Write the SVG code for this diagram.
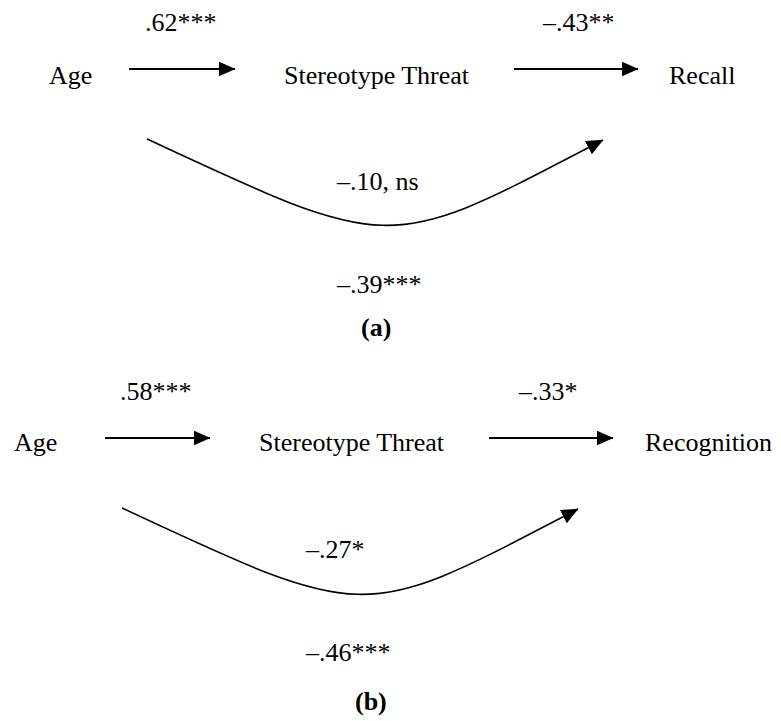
<svg xmlns="http://www.w3.org/2000/svg" width="781" height="721" viewBox="0 0 781 721">
<defs>
<style>
text{font-family:"Liberation Serif","Times New Roman",serif;font-size:26px;fill:#000}
.b{font-weight:bold}
.ln{fill:none;stroke:#000;marker-end:url(#ah)}
.st{stroke-width:2.2}
.cv{stroke-width:1.6}
</style>
<marker id="ah" markerUnits="userSpaceOnUse" markerWidth="17" markerHeight="15" viewBox="0 0 17 15" refX="16.5" refY="7.5" orient="auto">
<path d="M0,0 L17,7.5 L0,15 Z" fill="#000"/>
</marker>
</defs>
<rect width="781" height="721" fill="#fff"/>
<g id="panel-a">
<g id="a-age"><text x="49" y="84">Age</text></g>
<g id="a-threat"><text x="284" y="84">Stereotype Threat</text></g>
<g id="a-recall"><text x="669" y="84">Recall</text></g>
<g id="a-labels">
<text x="145" y="31">.62***</text>
<text x="543" y="31">–.43**</text>
<text x="337" y="190">–.10, ns</text>
<text x="337" y="293">–.39***</text>
<text class="b" x="361" y="336">(a)</text>
</g>
</g>
<g id="panel-b">
<g id="b-age"><text x="14" y="451">Age</text></g>
<g id="b-threat"><text x="259" y="451">Stereotype Threat</text></g>
<g id="b-recognition"><text x="645" y="451">Recognition</text></g>
<g id="b-labels">
<text x="120" y="400">.58***</text>
<text x="519" y="400">–.33*</text>
<text x="306" y="558">–.27*</text>
<text x="306" y="661">–.46***</text>
<text class="b" x="355" y="710">(b)</text>
</g>
</g>
<g id="connectors">
<path class="ln st" d="M129,69 H235"/>
<path class="ln st" d="M514,69 H638"/>
<path class="ln cv" d="M147,139 C397,256 388,252 603,140"/>
<path class="ln st" d="M105,438 H210"/>
<path class="ln st" d="M489,438 H613"/>
<path class="ln cv" d="M122,508 C372,625 363,621 578,509"/>
</g>
</svg>
